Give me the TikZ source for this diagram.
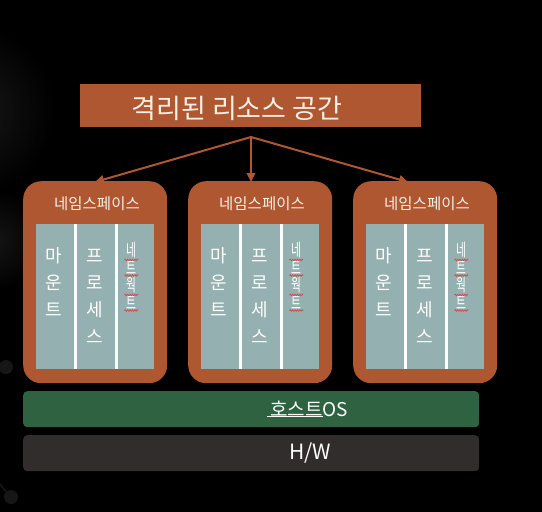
\documentclass[tikz,border=0pt]{standalone}
\usepackage{fontspec}
\usepackage{graphicx}
\newfontfamily\kr{Noto Sans CJK KR}
\usetikzlibrary{arrows.meta,decorations.pathmorphing}
\definecolor{brn}{RGB}{174,87,48}
\definecolor{pnl}{RGB}{149,176,176}
\definecolor{grn}{RGB}{46,98,64}
\definecolor{hwc}{RGB}{50,45,45}
\definecolor{txt}{RGB}{246,240,230}
\definecolor{wav}{RGB}{214,70,70}
\definecolor{bgA}{RGB}{24,24,24}
\definecolor{bgB}{RGB}{20,20,20}
\definecolor{bgC}{RGB}{22,22,22}
\newcommand{\cglyph}[1]{\hbox to 20pt{\hss#1\hss}}
\tikzset{
  nsbox/.style={fill=brn, rounded corners=18pt, draw=none},
  panel/.style={fill=pnl, draw=none},
  sep/.style={fill=white, draw=none},
  lbl/.style={text=txt, inner sep=0pt, font=\kr},
  coltxt/.style={text=white, inner sep=0pt, anchor=base, font=\kr\fontsize{18}{20}\selectfont},
  narrowtxt/.style={text=white, inner sep=0pt, anchor=base, font=\kr\fontsize{17.4}{17.5}\selectfont},
  arr/.style={draw=brn, line width=2pt, -{Triangle[length=9pt,width=8.5pt]}},
  squig/.style={draw=wav, line width=0.7pt, decorate, decoration={snake, segment length=2.4pt, amplitude=0.8pt}},
}
\begin{document}
\begin{tikzpicture}[x=1pt,y=-1pt]
\useasboundingbox (0,0) rectangle (542,512);
\fill[black] (0,0) rectangle (542,512);
% faint background decoration
\shade[inner color=bgA, outer color=black] (-30,110) circle[radius=85];
\shade[inner color=bgB, outer color=black] (-5,240) circle[radius=50];
\fill[bgC] (6,367) circle[radius=7];
\draw[bgC, line width=1.5pt] (0,484) -- (8,494);
\fill[bgC] (11,497) circle[radius=7];
% title
\node[fill=brn, minimum width=341pt, minimum height=43pt, inner sep=0pt] (title) at (250.5,105.5) {};
\node[lbl, font=\kr\fontsize{27}{30}\selectfont] (titletext) at (237,108) {격리된 리소스 공간};
\coordinate (src) at (251,137);
\coordinate (t1) at (95,182);
\coordinate (t2) at (251,182);
\coordinate (t3) at (408,182);
% namespaces
\foreach \bx/\i in {23/1,188/2,353/3}{
  \node[nsbox, minimum width=144pt, minimum height=202pt, inner sep=0pt, anchor=north west] (ns\i) at (\bx,181) {};
  \node[lbl, font=\kr\fontsize{15.5}{18}\selectfont] (nsl\i) at (\bx+74,204) {네임스페이스};
  \node[panel, minimum width=118pt, minimum height=145pt, inner sep=0pt, anchor=north west] (pn\i) at (\bx+13,224) {};
  \fill[sep] (\bx+50.5,224) rectangle (\bx+54,369);
  \fill[sep] (\bx+91.5,224) rectangle (\bx+95,369);
  % column 1
  \node[coltxt] (ma\i) at (\bx+31,262) {마};
  \node[coltxt] (un\i) at (\bx+31,289) {운};
  \node[coltxt] (te\i) at (\bx+31,316) {트};
  % column 2
  \node[coltxt] (pe\i) at (\bx+72,262) {프};
  \node[coltxt] (ro\i) at (\bx+72,289) {로};
  \node[coltxt] (se\i) at (\bx+72,316) {세};
  \node[coltxt] (su\i) at (\bx+72,343) {스};
  % column 3
  \node[narrowtxt] (net\i) at (\bx+108,309) {\scalebox{0.62}[1]{\vbox{\baselineskip=17.5pt\lineskiplimit=-100pt\lineskip=0pt
     \cglyph{네}\cglyph{트}\cglyph{웍}\cglyph{트}}}};
  \foreach \yy in {260,275.5,295,310.5}{
    \draw[squig] (\bx+101.5,\yy) -- (\bx+115,\yy);
  }
}
\draw[arr] (src) -- (t1);
\draw[arr] (src) -- (t2);
\draw[arr] (src) -- (t3);
% host OS and H/W
\node[fill=grn, rounded corners=4pt, minimum width=456pt, minimum height=36pt, inner sep=0pt, anchor=north west] (os) at (23,391) {};
\node[lbl, text=white, font=\kr\fontsize{19}{22}\selectfont] (ostext) at (309,409) {호스트OS};
\draw[white, line width=0.7pt] (267,416.5) -- (323,416.5);
\node[fill=hwc, rounded corners=4pt, minimum width=456pt, minimum height=36pt, inner sep=0pt, anchor=north west] (hw) at (23,435) {};
\node[lbl, text=white, font=\kr\fontsize{21}{24}\selectfont] (hwtext) at (310,453) {H/W};
\end{tikzpicture}
\end{document}
